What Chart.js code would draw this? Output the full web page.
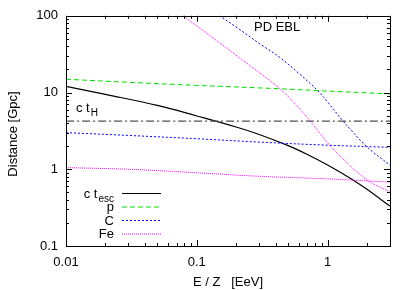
<!DOCTYPE html>
<html>
<head>
<meta charset="utf-8">
<script src="https://cdn.jsdelivr.net/npm/chart.js@4"></script>
<style>
  html, body { margin: 0; padding: 0; background: #fff; }
  #wrap { width: 415px; height: 290px; }
</style>
</head>
<body>
<div id="wrap"><canvas id="chart" width="415" height="290"></canvas></div>
<script>
// tick labels
const xTicks = [0.01, 0.1, 1];
const yTicks = [0.1, 1, 10, 100];

// c t_esc (escape length)
const tescE = [0.01, 0.02, 0.05, 0.1, 0.2, 0.3, 0.5, 0.7, 1, 1.5, 2, 3];
const tescD = [12, 9.45, 6.79, 4.95, 3.55, 2.84, 2.03, 1.56, 1.14, 0.76, 0.548, 0.331];

// Hubble length c t_H
const hubbleE = [0.01, 3];
const hubbleD = [4.24, 4.24];

// protons
const pE = [0.01, 0.03, 0.1, 0.43, 0.84, 3];
const pD = [14.9, 13.6, 12.4, 11.2, 10.6, 9.6];

// carbon, two curves
const cLowE = [0.01, 0.03, 0.1, 0.3, 1, 3];
const cLowD = [3.0, 2.76, 2.5, 2.26, 2.06, 1.93];
const cHighE = [0.14, 0.2, 0.3, 0.43, 0.6, 0.84, 1.0, 1.3, 1.52, 2.0, 3];
const cHighD = [108, 71.3, 43.7, 28.7, 17.9, 10.6, 7.53, 4.33, 3.21, 1.96, 1.13];

// iron, two curves
const feLowE = [0.01, 0.03, 0.1, 0.3, 1, 1.6, 3];
const feLowD = [1.05, 1.0, 0.9, 0.81, 0.75, 0.72, 0.68];
const feHighE = [0.07, 0.12, 0.18, 0.3, 0.44, 0.6, 0.73, 1.05, 1.4, 1.66, 2.2, 3];
const feHighD = [115, 58.7, 35, 18.2, 10.9, 6.35, 4.33, 2.01, 1.23, 0.934, 0.658, 0.51];

const pts = (xs, ys) => xs.map((x, i) => ({ x, y: ys[i] }));

const FONT = '"Liberation Sans", Arial, sans-serif';
const GREEN = '#00dd00', BLUE = '#0000ff', MAGENTA = '#ff00ff', GREY = '#505050';

function line(data, color, dash, width) {
  return {
    data,
    borderColor: color,
    borderDash: dash,
    borderWidth: width || 1,
    pointRadius: 0,
    fill: false,
    tension: 0.4
  };
}

// frame, ticks, texts and key drawn on top
const decor = {
  id: 'decor',
  afterDraw(chart) {
    const ctx = chart.ctx;
    const a = chart.chartArea;
    const xs = chart.scales.x, ys = chart.scales.y;
    ctx.save();
    ctx.strokeStyle = '#000';
    ctx.lineWidth = 1;
    ctx.strokeRect(Math.round(a.left) + 0.5, Math.round(a.top) + 0.5,
      Math.round(a.right - a.left), Math.round(a.bottom - a.top));

    ctx.beginPath();
    for (let d = 0.01; d < 10; d *= 10) {
      for (let m = 1; m < 10; m++) {
        const v = d * m;
        if (v > 3.0001) continue;
        const px = Math.round(xs.getPixelForValue(v)) + 0.5;
        const len = m === 1 ? 6 : 3;
        ctx.moveTo(px, a.bottom); ctx.lineTo(px, a.bottom - len);
        ctx.moveTo(px, a.top); ctx.lineTo(px, a.top + len);
      }
    }
    for (let d = 0.1; d < 200; d *= 10) {
      for (let m = 1; m < 10; m++) {
        const v = d * m;
        if (v > 100.001) continue;
        const py = Math.round(ys.getPixelForValue(v)) + 0.5;
        const len = m === 1 ? 6 : 3;
        ctx.moveTo(a.left, py); ctx.lineTo(a.left + len, py);
        ctx.moveTo(a.right, py); ctx.lineTo(a.right - len, py);
      }
    }
    ctx.stroke();

    ctx.fillStyle = '#000';
    ctx.textBaseline = 'alphabetic';

    // c t_H
    ctx.font = '13px ' + FONT;
    ctx.textAlign = 'left';
    ctx.fillText('c t', 76, 112);
    const w = ctx.measureText('c t').width;
    ctx.font = '10px ' + FONT;
    ctx.fillText('H', 76 + w + 1, 116);

    // PD EBL
    ctx.font = '13px ' + FONT;
    ctx.fillText('PD EBL', 254, 31);

    // axis titles
    ctx.textAlign = 'center';
    ctx.fillText('E / Z   [EeV]', 228, 286);
    ctx.save();
    ctx.translate(17, 134);
    ctx.rotate(-Math.PI / 2);
    ctx.fillText('Distance [Gpc]', 0, 0);
    ctx.restore();

    // key
    const keyRows = [
      { main: 'c t', sub: 'esc', color: '#000', dash: [], width: 1.2 },
      { main: 'p', sub: '', color: GREEN, dash: [5, 3], width: 1 },
      { main: 'C', sub: '', color: BLUE, dash: [2, 2], width: 1 },
      { main: 'Fe', sub: '', color: MAGENTA, dash: [1, 1], width: 1 }
    ];
    const textRight = 114;
    keyRows.forEach((r, i) => {
      const y = 193.5 + i * 13.5;
      ctx.textAlign = 'left';
      ctx.font = '10px ' + FONT;
      const sw = r.sub ? ctx.measureText(r.sub).width : 0;
      ctx.font = '13px ' + FONT;
      const mw = ctx.measureText(r.main).width;
      const x0 = textRight - sw - mw - (r.sub ? 1 : 0);
      ctx.fillText(r.main, x0, y + 4);
      if (r.sub) {
        ctx.font = '10px ' + FONT;
        ctx.fillText(r.sub, x0 + mw + 1, y + 8);
      }
      ctx.beginPath();
      ctx.strokeStyle = r.color;
      ctx.lineWidth = r.width;
      ctx.setLineDash(r.dash);
      ctx.moveTo(122, y); ctx.lineTo(161, y);
      ctx.stroke();
      ctx.setLineDash([]);
    });
    ctx.restore();
  }
};

new Chart(document.getElementById('chart'), {
  type: 'line',
  data: {
    datasets: [
      line(pts(hubbleE, hubbleD), GREY, [8, 3, 2, 3], 1.2),
      line(pts(pE, pD), GREEN, [5, 3]),
      line(pts(cLowE, cLowD), BLUE, [2, 2]),
      line(pts(cHighE, cHighD), BLUE, [2, 2]),
      line(pts(feLowE, feLowD), MAGENTA, [1, 1]),
      line(pts(feHighE, feHighD), MAGENTA, [1, 1]),
      line(pts(tescE, tescD), '#000', [], 1.2)
    ]
  },
  options: {
    responsive: false,
    animation: false,
    layout: { padding: { top: 15, right: 25, left: 0, bottom: 0 } },
    plugins: { legend: { display: false }, tooltip: { enabled: false } },
    scales: {
      x: {
        type: 'logarithmic',
        min: 0.01,
        max: 3,
        grid: { display: false, drawTicks: false },
        border: { display: false },
        afterBuildTicks: s => { s.ticks = xTicks.map(v => ({ value: v })); },
        afterFit: s => { s.height = 44; },
        ticks: {
          autoSkip: false,
          maxRotation: 0,
          padding: 9,
          color: '#000',
          font: { family: FONT, size: 13 },
          callback: v => String(v)
        }
      },
      y: {
        type: 'logarithmic',
        min: 0.1,
        max: 100,
        grid: { display: false, drawTicks: false },
        border: { display: false },
        afterBuildTicks: s => { s.ticks = yTicks.map(v => ({ value: v })); },
        afterFit: s => { s.width = 66; },
        ticks: {
          autoSkip: false,
          padding: 8,
          color: '#000',
          font: { family: FONT, size: 13 },
          callback: v => String(v)
        }
      }
    }
  },
  plugins: [decor]
});
</script>
</body>
</html>
